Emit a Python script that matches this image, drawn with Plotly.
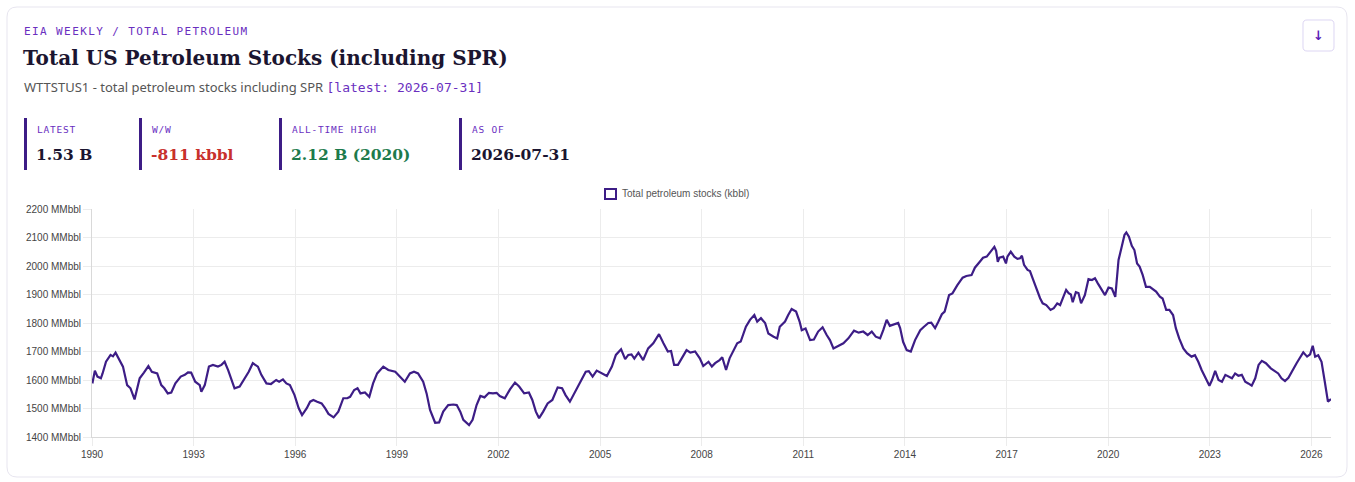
import plotly.graph_objects as go

# weekly total petroleum stocks incl. SPR (MMbbl)
dates = [
    "1990-01-05", "1990-02-01", "1990-03-01", "1990-04-07", "1990-04-25", "1990-06-01",
    "1990-07-20", "1990-08-15", "1990-09-12", "1990-10-26", "1990-12-01", "1991-01-15",
    "1991-02-20", "1991-04-05", "1991-05-30", "1991-07-15", "1991-09-01", "1991-10-08",
    "1991-12-05", "1992-01-18", "1992-02-20", "1992-03-28", "1992-05-05", "1992-06-18",
    "1992-08-15", "1992-09-28", "1992-11-01", "1992-12-05", "1993-01-18", "1993-03-08",
    "1993-03-25", "1993-05-01", "1993-06-15", "1993-07-28", "1993-09-20", "1993-10-28",
    "1993-12-01", "1994-01-08", "1994-02-10", "1994-03-18", "1994-05-12", "1994-07-05",
    "1994-08-18", "1994-10-01", "1994-11-25", "1995-01-01", "1995-02-25", "1995-04-15",
    "1995-06-10", "1995-07-12", "1995-08-22", "1995-09-28", "1995-11-05", "1995-12-25",
    "1996-02-08", "1996-03-15", "1996-05-05", "1996-06-10", "1996-07-15", "1996-08-25",
    "1996-10-12", "1996-11-18", "1996-12-25", "1997-02-18", "1997-04-10", "1997-06-03",
    "1997-07-15", "1997-08-15", "1997-09-28", "1997-11-03", "1997-12-05", "1998-01-22",
    "1998-03-10", "1998-04-20", "1998-06-03", "1998-08-08", "1998-10-01", "1998-12-15",
    "1999-02-03", "1999-03-28", "1999-05-22", "1999-07-05", "1999-08-18", "1999-10-12",
    "1999-11-18", "1999-12-25", "2000-02-18", "2000-04-01", "2000-05-15", "2000-07-08",
    "2000-09-01", "2000-10-08", "2000-11-15", "2000-12-18", "2001-02-18", "2001-03-28",
    "2001-05-10", "2001-06-20", "2001-08-03", "2001-09-20", "2001-11-02", "2001-12-12",
    "2002-01-15", "2002-03-10", "2002-05-05", "2002-06-28", "2002-08-12", "2002-10-05",
    "2002-11-25", "2003-01-01", "2003-02-08", "2003-03-15", "2003-04-28", "2003-06-15",
    "2003-08-05", "2003-10-01", "2003-11-18", "2003-12-25", "2004-02-10", "2004-04-05",
    "2004-05-30", "2004-07-30", "2004-09-01", "2004-10-12", "2004-11-25", "2005-01-10",
    "2005-03-15", "2005-05-08", "2005-06-20", "2005-08-15", "2005-09-28", "2005-11-01",
    "2005-12-05", "2006-01-05", "2006-02-18", "2006-04-10", "2006-06-03", "2006-07-28",
    "2006-09-28", "2006-11-15", "2007-01-01", "2007-02-05", "2007-03-10", "2007-04-20",
    "2007-05-30", "2007-07-22", "2007-09-01", "2007-10-22", "2007-12-12", "2008-01-18",
    "2008-03-15", "2008-04-20", "2008-05-25", "2008-07-12", "2008-08-10", "2008-09-20",
    "2008-10-28", "2008-12-05", "2009-01-18", "2009-02-25", "2009-04-22", "2009-06-05",
    "2009-07-22", "2009-08-22", "2009-10-01", "2009-11-15", "2009-12-20", "2010-02-15",
    "2010-03-25", "2010-04-22", "2010-06-18", "2010-07-22", "2010-08-28", "2010-10-15",
    "2010-11-22", "2010-12-15", "2011-01-25", "2011-03-15", "2011-04-25", "2011-06-10",
    "2011-07-28", "2011-09-10", "2011-10-15", "2011-11-22", "2012-01-10", "2012-03-08",
    "2012-05-01", "2012-07-01", "2012-08-20", "2012-10-08", "2012-11-25", "2013-01-08",
    "2013-02-20", "2013-04-08", "2013-05-12", "2013-06-18", "2013-07-22", "2013-09-08",
    "2013-10-20", "2013-11-10", "2013-12-12", "2014-01-20", "2014-03-05", "2014-04-20",
    "2014-06-15", "2014-07-25", "2014-09-10", "2014-10-12", "2014-11-22", "2014-12-28",
    "2015-02-03", "2015-03-05", "2015-04-22", "2015-05-28", "2015-07-20", "2015-09-15",
    "2015-10-25", "2015-12-20", "2016-01-25", "2016-03-18", "2016-04-22", "2016-06-01",
    "2016-07-22", "2016-08-22", "2016-09-10", "2016-09-28", "2016-10-15", "2016-11-25",
    "2016-12-25", "2017-01-10", "2017-02-15", "2017-03-25", "2017-04-28", "2017-05-25",
    "2017-06-15", "2017-07-08", "2017-08-15", "2017-09-10", "2017-10-15", "2017-11-20",
    "2017-12-28", "2018-01-25", "2018-03-05", "2018-04-20", "2018-05-25", "2018-07-01",
    "2018-08-01", "2018-09-05", "2018-10-05", "2018-11-01", "2018-11-25", "2018-12-15",
    "2019-01-18", "2019-02-15", "2019-03-15", "2019-04-25", "2019-06-03", "2019-07-10",
    "2019-08-12", "2019-09-10", "2019-10-22", "2019-11-28", "2020-01-05", "2020-02-10",
    "2020-03-18", "2020-04-22", "2020-05-18", "2020-06-25", "2020-07-15", "2020-08-12",
    "2020-09-12", "2020-10-10", "2020-11-08", "2020-12-05", "2021-01-08", "2021-02-12",
    "2021-03-25", "2021-05-01", "2021-06-01", "2021-07-12", "2021-08-10", "2021-09-18",
    "2021-10-22", "2021-12-01", "2021-12-31", "2022-02-05", "2022-03-22", "2022-05-01",
    "2022-06-18", "2022-07-25", "2022-08-30", "2022-10-05", "2022-11-22", "2022-12-28",
    "2023-01-25", "2023-02-28", "2023-04-05", "2023-05-12", "2023-06-18", "2023-07-25",
    "2023-08-28", "2023-10-01", "2023-11-05", "2023-12-12", "2024-01-18", "2024-02-20",
    "2024-03-28", "2024-05-05", "2024-06-10", "2024-07-15", "2024-08-28", "2024-10-20",
    "2024-12-05", "2025-01-08", "2025-02-12", "2025-03-22", "2025-04-28", "2025-06-15",
    "2025-07-25", "2025-08-30", "2025-10-05", "2025-11-15", "2025-12-18", "2026-01-15",
    "2026-02-10", "2026-03-15", "2026-04-20", "2026-05-25", "2026-06-28", "2026-07-31",
]
stocks = [
    1588, 1633, 1612, 1606, 1623, 1664,
    1688, 1683, 1696, 1670, 1647, 1582,
    1571, 1532, 1606, 1626, 1649, 1629,
    1623, 1582, 1571, 1553, 1556, 1588,
    1612, 1618, 1627, 1626, 1594, 1582,
    1559, 1582, 1647, 1653, 1647, 1653,
    1664, 1635, 1606, 1571, 1577, 1606,
    1629, 1659, 1647, 1618, 1588, 1586,
    1600, 1594, 1602, 1588, 1582, 1547,
    1501, 1477, 1501, 1524, 1530, 1524,
    1518, 1501, 1481, 1469, 1489, 1536,
    1536, 1541, 1565, 1571, 1553, 1556,
    1541, 1588, 1623, 1647, 1635, 1629,
    1612, 1594, 1623, 1629, 1623, 1594,
    1553, 1495, 1450, 1451, 1489, 1512,
    1514, 1512, 1489, 1460, 1442, 1460,
    1512, 1544, 1539, 1555, 1553, 1555,
    1544, 1536, 1567, 1591, 1577, 1553,
    1556, 1530, 1489, 1466, 1489, 1518,
    1530, 1574, 1571, 1547, 1524, 1559,
    1594, 1629, 1631, 1612, 1633, 1624,
    1614, 1647, 1688, 1708, 1673, 1688,
    1690, 1675, 1696, 1670, 1711, 1729,
    1761, 1729, 1700, 1702, 1653, 1653,
    1676, 1705, 1696, 1700, 1676, 1649,
    1664, 1647, 1659, 1670, 1680, 1635,
    1676, 1700, 1729, 1735, 1787, 1811,
    1828, 1805, 1817, 1800, 1763, 1752,
    1746, 1787, 1805, 1828, 1849, 1840,
    1805, 1775, 1781, 1740, 1742, 1770,
    1785, 1758, 1740, 1711, 1719, 1729,
    1746, 1773, 1766, 1770, 1758, 1770,
    1752, 1746, 1775, 1811, 1790, 1794,
    1800, 1782, 1734, 1705, 1700, 1740,
    1775, 1787, 1800, 1801, 1782, 1805,
    1831, 1840, 1898, 1904, 1933, 1959,
    1965, 1968, 1994, 2015, 2029, 2033,
    2053, 2067, 2053, 2015, 2029, 2033,
    2009, 2033, 2050, 2033, 2025, 2027,
    2036, 2004, 1986, 1982, 1951, 1916,
    1887, 1869, 1863, 1846, 1852, 1869,
    1863, 1892, 1916, 1905, 1900, 1873,
    1908, 1905, 1869, 1898, 1954, 1951,
    1957, 1940, 1919, 1898, 1924, 1921,
    1892, 2021, 2056, 2109, 2118, 2103,
    2071, 2056, 2009, 1998, 1968, 1927,
    1927, 1916, 1910, 1892, 1886, 1846,
    1846, 1828, 1782, 1746, 1711, 1694,
    1682, 1687, 1664, 1635, 1606, 1580,
    1600, 1632, 1600, 1594, 1618, 1612,
    1606, 1623, 1615, 1618, 1594, 1588,
    1580, 1606, 1653, 1667, 1659, 1641,
    1629, 1623, 1606, 1596, 1608, 1639,
    1659, 1678, 1697, 1682, 1690, 1720,
    1682, 1687, 1664, 1594, 1524, 1533,
]

kpi_labels = ["LATEST", "W/W", "ALL-TIME HIGH", "AS OF"]
kpi_values = ["1.53 B", "-811 kbbl", "2.12 B (2020)", "2026-07-31"]
kpi_colors = ["#1b1530", "#c8302c", "#1d7a4c", "#1b1530"]
kpi_left = [24, 139, 279, 459]

LINE = "#3d1d86"
PURPLE = "#6a2fbf"
SERIF = "DejaVu Serif"
MONO = "DejaVu Sans Mono"
SANS = "Liberation Sans"

W, H = 1355, 482
L, R, T, B = 92, 24, 209, 45
PW, PH = W - L - R, H - T - B


def fx(px):
    return (px - L) / PW


def fy(py):
    return (H - B - py) / PH


def rrect(x0, y0, x1, y1, r):
    # rounded rectangle path in paper coords, input in pixels
    pts = [
        ("M", [(x0 + r, y0)]), ("L", [(x1 - r, y0)]), ("Q", [(x1, y0), (x1, y0 + r)]),
        ("L", [(x1, y1 - r)]), ("Q", [(x1, y1), (x1 - r, y1)]),
        ("L", [(x0 + r, y1)]), ("Q", [(x0, y1), (x0, y1 - r)]),
        ("L", [(x0, y0 + r)]), ("Q", [(x0, y0), (x0 + r, y0)]),
    ]
    s = ""
    for cmd, ps in pts:
        s += cmd + " ".join("%.5f,%.5f" % (fx(a), fy(b)) for a, b in ps) + " "
    return s + "Z"


fig = go.Figure()
fig.add_trace(go.Scatter(
    x=dates, y=stocks, mode="lines", name="Total petroleum stocks (kbbl)",
    line=dict(color=LINE, width=2.2), showlegend=False,
))

shapes = [
    dict(type="path", xref="paper", yref="paper", path=rrect(7, 7, 1347, 477, 10),
         line=dict(color="#e7e5ef", width=1), layer="below"),
    dict(type="path", xref="paper", yref="paper", path=rrect(1303, 20, 1334, 51, 4),
         line=dict(color="#ddd6f3", width=1), layer="below"),
    # legend box
    dict(type="rect", xref="paper", yref="paper", x0=fx(605), x1=fx(616), y0=fy(199), y1=fy(189),
         line=dict(color=LINE, width=2), fillcolor="white"),
]
for x in kpi_left:
    shapes.append(dict(type="rect", xref="paper", yref="paper", x0=fx(x), x1=fx(x + 3),
                       y0=fy(170), y1=fy(118), line=dict(width=0), fillcolor="#3d1d86"))

ann = [
    dict(x=fx(22), y=fy(32), text='<span style="letter-spacing:1.4px">EIA WEEKLY / TOTAL PETROLEUM</span>',
         font=dict(family=MONO, size=11, color=PURPLE)),
    dict(x=fx(21), y=fy(58), text="<b>Total US Petroleum Stocks (including SPR)</b>",
         font=dict(family=SERIF, size=20, color="#1b1530")),
    dict(x=fx(22), y=fy(87),
         text='WTTSTUS1 - total petroleum stocks including SPR <span style="font-family:%s;color:%s">[latest: 2026-07-31]</span>' % (MONO, PURPLE),
         font=dict(family="Noto Sans", size=13, color="#555")),
    dict(x=fx(620), y=fy(194), text="Total petroleum stocks (kbbl)",
         font=dict(family=SANS, size=10, color="#555")),
    dict(x=fx(1318.5), y=fy(35.5), text="<b>↓</b>", xanchor="center",
         font=dict(family="DejaVu Sans", size=13, color="#5b21b6")),
]
for x, lab, val, col in zip(kpi_left, kpi_labels, kpi_values, kpi_colors):
    ann.append(dict(x=fx(x + 11), y=fy(129), text='<span style="letter-spacing:0.8px">%s</span>' % lab,
                    font=dict(family=MONO, size=9.5, color=PURPLE)))
    ann.append(dict(x=fx(x + 10), y=fy(154), text="<b>%s</b>" % val,
                    font=dict(family=SERIF, size=15.5, color=col)))
for a in ann:
    a.setdefault("xanchor", "left")
    a.update(xref="paper", yref="paper", yanchor="middle", showarrow=False)

fig.update_layout(
    width=W, height=H,
    margin=dict(l=L, r=R, t=T, b=B),
    paper_bgcolor="white", plot_bgcolor="white",
    shapes=shapes, annotations=ann,
    xaxis=dict(
        type="date", range=["1990-01-01", "2026-07-31"],
        tick0="1990-01-01", dtick="M36", tickformat="%Y",
        showgrid=True, gridcolor="#ececec", gridwidth=1,
        showline=True, linecolor="#d9d9d9", linewidth=1,
        ticks="outside", ticklen=8, tickcolor="#ececec",
        tickfont=dict(family=SANS, size=10, color="#444"),
    ),
    yaxis=dict(
        range=[1400, 2200], dtick=100, ticksuffix=" MMbbl",
        showgrid=True, gridcolor="#ececec", gridwidth=1,
        showline=True, linecolor="#d9d9d9", linewidth=1,
        ticks="outside", ticklen=8, tickcolor="#ececec",
        tickfont=dict(family=SANS, size=10, color="#444"),
        zeroline=False,
    ),
)

fig.write_html("out.html", config={"displayModeBar": False},
               post_script="document.body.style.margin='0';")
